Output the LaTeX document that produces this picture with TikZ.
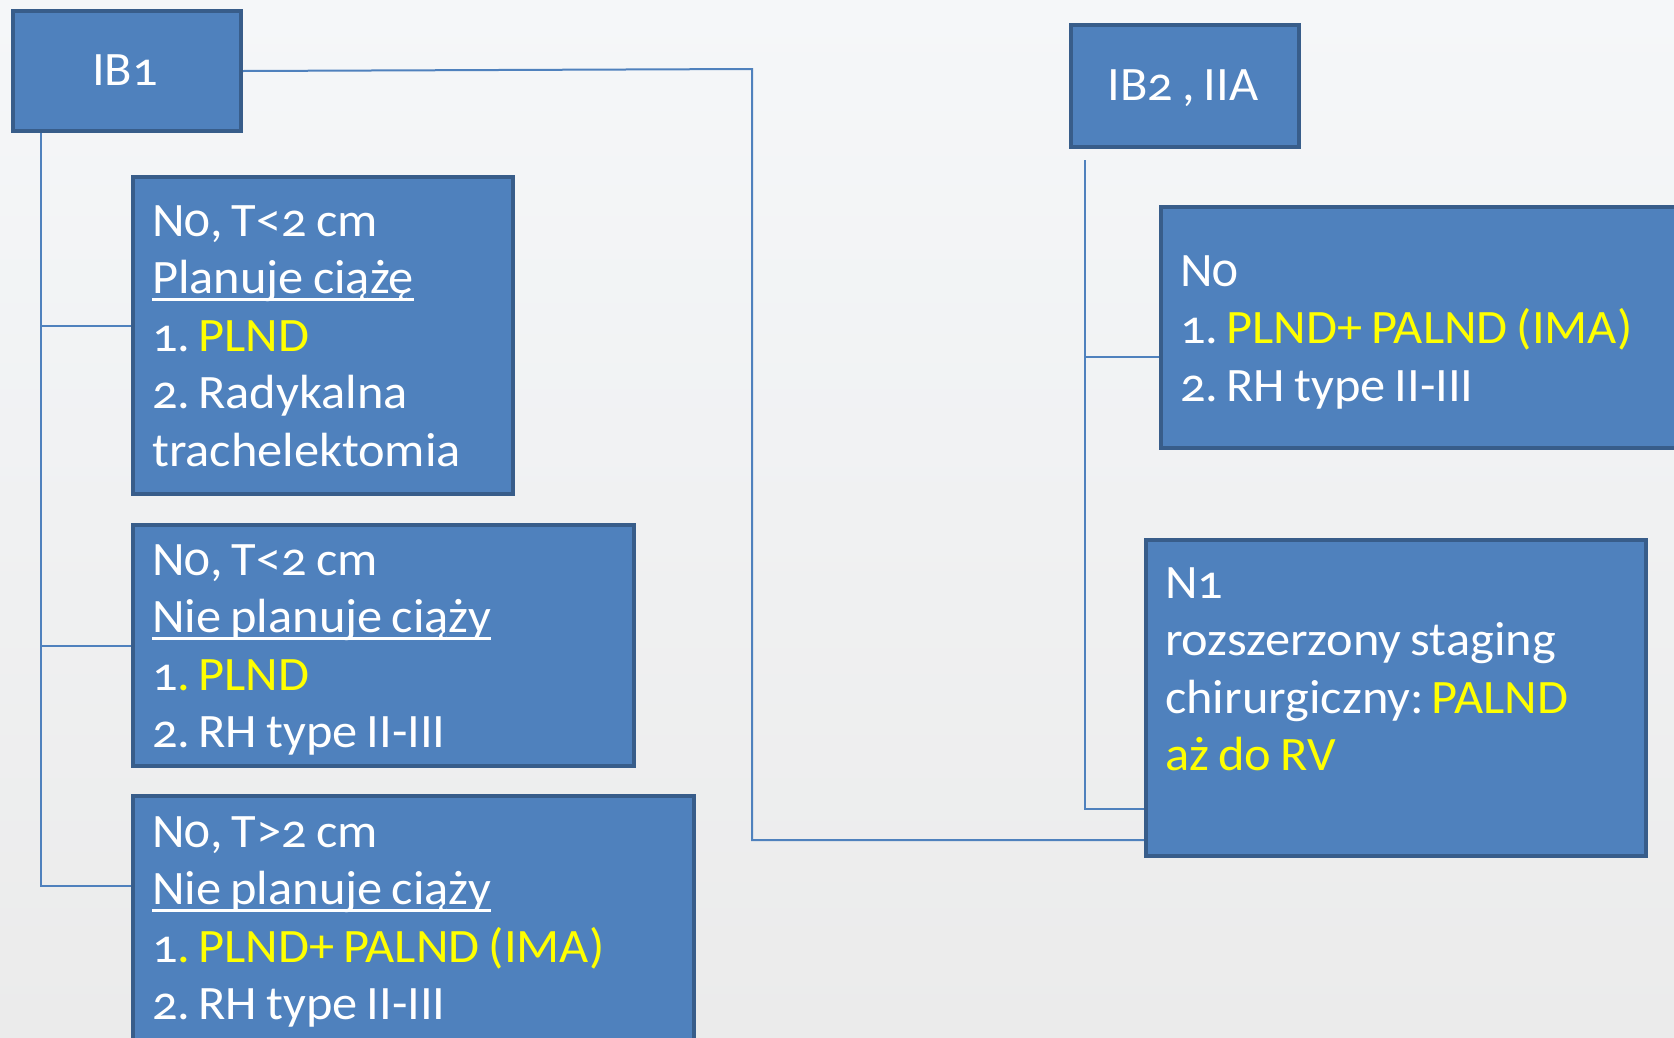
\documentclass[tikz,border=0pt]{standalone}
\usepackage{fontspec}
\setmainfont{Carlito}[Numbers=OldStyle, FakeStretch=1.05, WordSpace=0.8]
\usetikzlibrary{backgrounds}
\definecolor{boxfill}{HTML}{4F81BD}
\definecolor{boxline}{HTML}{385D8A}
\definecolor{conncol}{HTML}{4F81BD}
\definecolor{hl}{HTML}{FFFF00}
\definecolor{bgtop}{HTML}{F5F7F9}
\definecolor{bgbot}{HTML}{EBEBEB}
\newcommand\myul[1]{\setbox0\hbox{#1}\rlap{\rule[-7pt]{\wd0}{2.2pt}}\box0}
\newcommand\hy[1]{\textcolor{hl}{#1}}
\begin{document}
\begin{tikzpicture}[x=1pt,y=-1pt,
  box/.style={draw=boxline, line width=4pt, fill=boxfill, rectangle, inner sep=0pt, anchor=north west},
  conn/.style={draw=conncol, line width=2pt},
  txt/.style={text=white, align=left, inner sep=0pt, anchor=base west, font=\fontsize{48}{57.6}\selectfont}]
\useasboundingbox (0,0) rectangle (1674,1037);
\clip (0,0) rectangle (1674,1037);
% boxes
\node[box, minimum width=228pt, minimum height=120pt] (ib1) at (11,9) {};
\node[box, minimum width=380pt, minimum height=317pt] (a) at (131,175) {};
\node[box, minimum width=501pt, minimum height=241pt] (b) at (131,523) {};
\node[box, minimum width=561pt, minimum height=300pt] (c) at (131,794) {};
\node[box, minimum width=228pt, minimum height=122pt] (ib2) at (1069,23) {};
\node[box, minimum width=560pt, minimum height=241pt] (d) at (1159,205) {};
\node[box, minimum width=500pt, minimum height=316pt] (e) at (1144,538) {};
% texts (anchored at the baseline of their last line)
\node[txt, anchor=base] (tib1) at (125,85) {IB1};
\node[txt, anchor=base] (tib2) at (1183,100) {IB2 , IIA};
\node[txt] (ta) at (152,466.4) {N0, T<2 cm\\ \myul{Planuje ciążę}\\ 1.\,\hy{PLND}\\ 2.\,Radykalna\\ trachelektomia};
\node[txt] (tb) at (152,747.8) {N0, T<2 cm\\ \myul{Nie planuje ciąży}\\ 1\hy{.\,PLND}\\ 2.\,RH type II-III};
\node[txt] (tc) at (152,1019.8) {N0, T>2 cm\\ \myul{Nie planuje ciąży}\\ 1\hy{.\,PLND+ PALND (IMA)}\\ 2.\,RH type II-III};
\node[txt] (td) at (1180,401.2) {N0\\ 1.\,\hy{PLND+ PALND (IMA)}\\ 2.\,RH type II-III};
\node[txt] (te) at (1165,770.8) {N1\\ rozszerzony staging\\ chirurgiczny:\,\hy{PALND}\\ \hy{aż do RV}};
% background + connectors
\begin{scope}[on background layer]
\shade[top color=bgtop, bottom color=bgbot] (0,0) rectangle (1674,1037);
\coordinate (t1) at (40.6,130);
\draw[conn] (t1) |- ([yshift=-151pt]a.north west);
\draw[conn] (t1) |- (b.west);
\draw[conn] (t1) |- ([yshift=-92pt]c.north west);
\coordinate (m1) at (752,69);
\draw[conn] (ib1.east) -- (m1) |- ([yshift=-302pt]e.north west);
\coordinate (t2) at (1085,160);
\draw[conn] (t2) |- ([yshift=-152pt]d.north west);
\draw[conn] (t2) |- ([yshift=-271pt]e.north west);
\end{scope}
\end{tikzpicture}
\end{document}
